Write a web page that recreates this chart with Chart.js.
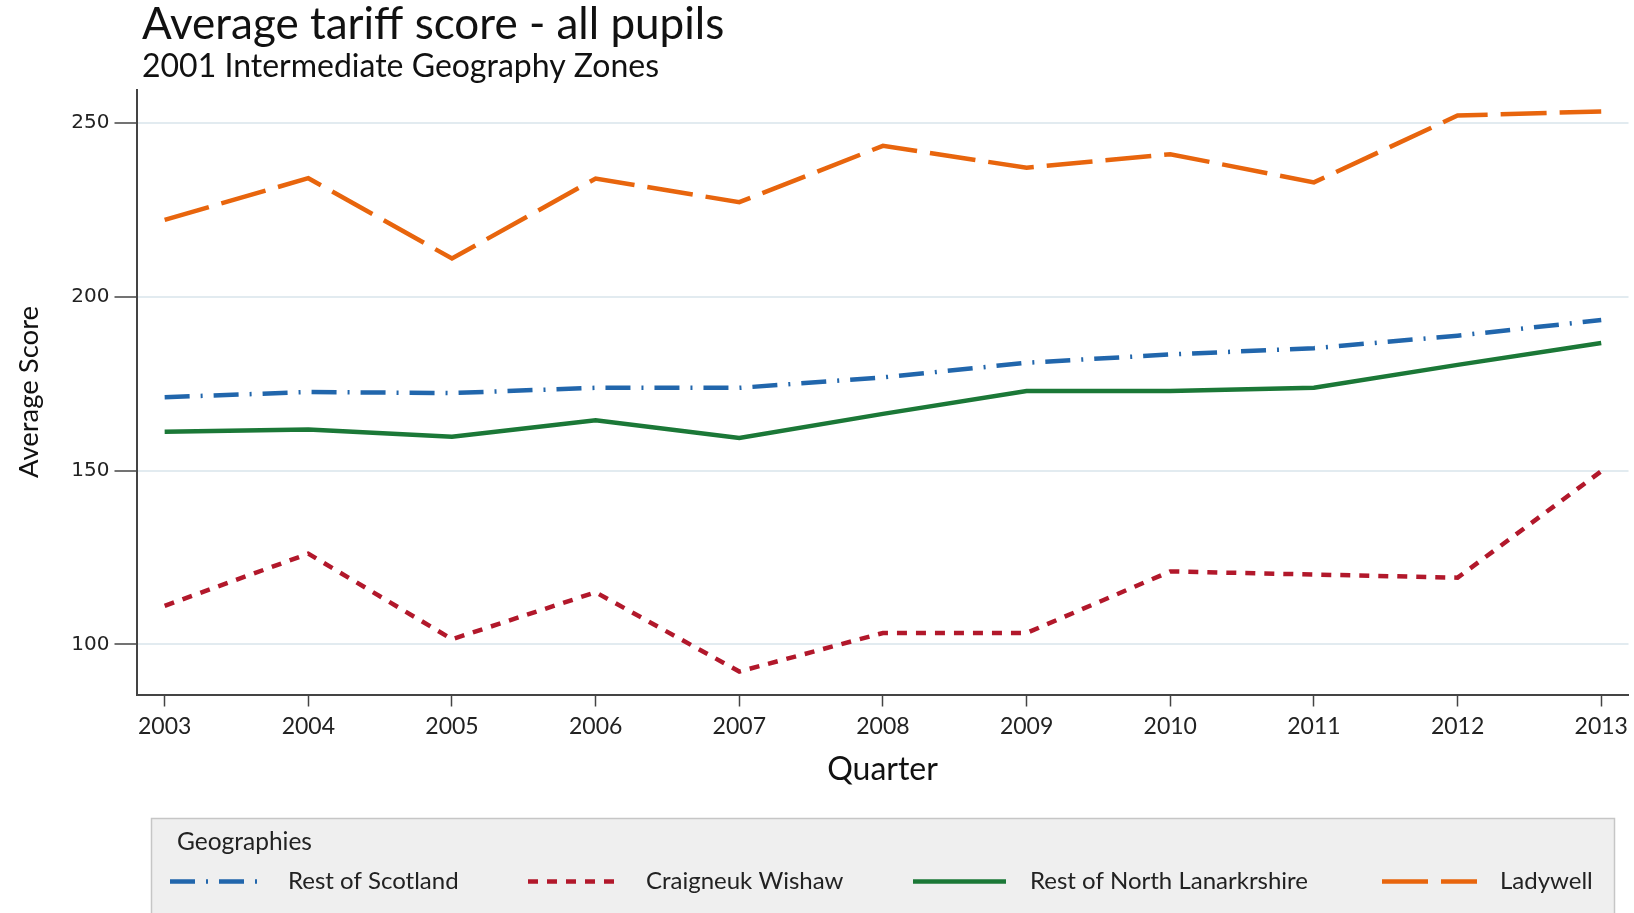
<!DOCTYPE html>
<html>
<head>
<meta charset="utf-8">
<script src="https://cdn.jsdelivr.net/npm/chart.js"></script>
<style>
  html, body { margin: 0; padding: 0; background: #fff; }
  #wrap { width: 1634px; height: 913px; }
</style>
</head>
<body>
<div id="wrap"><canvas id="myChart" width="1634" height="913"></canvas></div>
<script>
// values
const years = [2003, 2004, 2005, 2006, 2007, 2008, 2009, 2010, 2011, 2012, 2013];
const restOfScotland = [171.1, 172.6, 172.3, 173.8, 173.8, 176.8, 181.0, 183.4, 185.2, 188.8, 193.3];
const craigneukWishaw = [111.1, 126.1, 101.5, 115.0, 92.2, 103.3, 103.3, 121.0, 120.1, 119.2, 149.8];
const restOfNorthLanarkshire = [161.2, 161.8, 159.7, 164.5, 159.4, 166.3, 172.9, 172.9, 173.8, 180.4, 186.7];
const ladywell = [222.1, 234.1, 211.0, 234.0, 227.2, 243.4, 237.1, 241.0, 232.9, 252.1, 253.3];
const yTicks = [100, 150, 200, 250];

const chartTitle = "Average tariff score - all pupils";
const chartSubtitle = "2001 Intermediate Geography Zones";
const legendTitle = "Geographies";

const toPoints = (values) => values.map((v, i) => ({ x: years[i], y: v }));

// legend sample x positions (line start, line end, text start)
const legendSlots = [
  [170, 260, 288],
  [528, 617, 646],
  [913, 1006, 1030],
  [1382, 1477, 1500],
];

const headerAndLegend = {
  id: "headerAndLegend",
  afterDraw(chart) {
    const ctx = chart.ctx;
    ctx.save();
    ctx.fillStyle = "#111";
    ctx.textAlign = "left";
    ctx.textBaseline = "alphabetic";
    ctx.font = "44px Lato";
    ctx.fillText(chartTitle, 142, 39);
    ctx.font = "32px Lato";
    ctx.fillText(chartSubtitle, 142, 77);

    // legend box
    ctx.fillStyle = "#efefef";
    ctx.fillRect(151, 818, 1464, 110);
    ctx.strokeStyle = "#c6c6c6";
    ctx.lineWidth = 1.5;
    ctx.strokeRect(151.5, 818.5, 1463, 110);

    ctx.fillStyle = "#222";
    ctx.textBaseline = "middle";
    ctx.font = "24.5px Lato";
    ctx.fillText(legendTitle, 177, 842);

    ctx.font = "24px Lato";
    chart.data.datasets.forEach((ds, i) => {
      const [x0, x1, tx] = legendSlots[i];
      const y = 881.5;
      ctx.strokeStyle = ds.borderColor;
      ctx.lineWidth = ds.borderWidth;
      ctx.setLineDash(ds.borderDash || []);
      ctx.beginPath();
      ctx.moveTo(x0, y);
      ctx.lineTo(x1, y);
      ctx.stroke();
      ctx.setLineDash([]);
      ctx.fillStyle = "#222";
      ctx.fillText(ds.label, tx, y);
    });
    ctx.restore();
  },
};

const draw = () => {
  const canvas = document.getElementById("myChart");
  new Chart(canvas, {
    type: "line",
    data: {
      datasets: [
        {
          label: "Rest of Scotland",
          data: toPoints(restOfScotland),
          borderColor: "#2166ac",
          borderWidth: 4.5,
          borderDash: [25, 11, 2, 11],
        },
        {
          label: "Craigneuk Wishaw",
          data: toPoints(craigneukWishaw),
          borderColor: "#b2182b",
          borderWidth: 4.5,
          borderDash: [10, 9],
        },
        {
          label: "Rest of North Lanarkrshire",
          data: toPoints(restOfNorthLanarkshire),
          borderColor: "#1b7837",
          borderWidth: 4.5,
          borderDash: [],
        },
        {
          label: "Ladywell",
          data: toPoints(ladywell),
          borderColor: "#e8650d",
          borderWidth: 4.5,
          borderDash: [46, 13],
        },
      ],
    },
    options: {
      responsive: false,
      animation: false,
      devicePixelRatio: 1,
      elements: {
        point: { radius: 0 },
        line: { tension: 0, fill: false, borderCapStyle: "butt", borderJoinStyle: "miter" },
      },
      layout: { padding: { left: 0, right: 5, top: 89.5, bottom: 124.5 } },
      plugins: {
        legend: { display: false },
        title: { display: false },
        tooltip: { enabled: false },
      },
      scales: {
        x: {
          type: "linear",
          min: 2002.804,
          max: 2013.19,
          afterBuildTicks: (scale) => {
            scale.ticks = years.map((v) => ({ value: v }));
          },
          afterFit: (scale) => {
            scale.height = 94;
          },
          ticks: {
            autoSkip: false,
            maxRotation: 0,
            padding: 6,
            color: "#222",
            font: { family: "Lato", size: 23 },
            callback: (v) => String(v),
          },
          grid: {
            drawOnChartArea: false,
            tickLength: 12,
            tickColor: "#444",
            tickWidth: 1.5,
          },
          border: { color: "#444", width: 2 },
          title: {
            display: true,
            text: "Quarter",
            color: "#111",
            font: { family: "Lato", size: 32 },
            padding: { top: 0, bottom: 0 },
          },
        },
        y: {
          min: 85.6,
          max: 259.6,
          afterBuildTicks: (scale) => {
            scale.ticks = yTicks.map((v) => ({ value: v }));
          },
          afterFit: (scale) => {
            scale.width = 136.5;
          },
          ticks: {
            padding: 5,
            color: "#222",
            font: { family: "DejaVu Sans", size: 20 },
          },
          grid: {
            color: "#e2ebf0",
            lineWidth: 2,
            tickLength: 22,
            tickColor: "#444",
            tickWidth: 1.5,
          },
          border: { color: "#444", width: 2 },
          title: {
            display: true,
            text: "Average Score",
            color: "#111",
            font: { family: "Lato", size: 27.5 },
            padding: { top: 13, bottom: 0 },
          },
        },
      },
    },
    plugins: [headerAndLegend],
  });
};

Promise.all([
  document.fonts.load("38px Lato"),
  document.fonts.load("19px 'DejaVu Sans'"),
]).then(draw, draw);
</script>
</body>
</html>
